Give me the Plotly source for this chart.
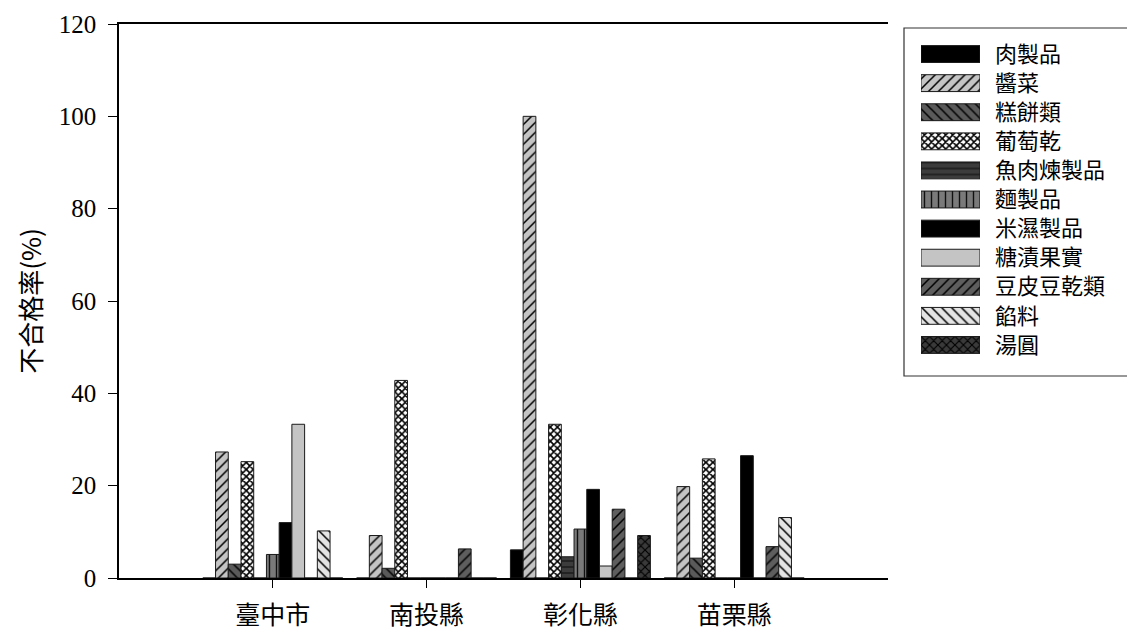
import plotly.graph_objects as go

regions = ["臺中市", "南投縣", "彰化縣", "苗栗縣"]
series = ["肉製品", "醬菜", "糕餅類", "葡萄乾", "魚肉煉製品", "麵製品",
          "米濕製品", "糖漬果實", "豆皮豆乾類", "餡料", "湯圓"]

# values per series, order of regions
meat      = [0, 0, 6.1, 0]
pickles   = [27.3, 9.2, 100, 19.8]
cakes     = [3.0, 2.1, 0, 4.3]
raisins   = [25.2, 42.8, 33.3, 25.8]
fishpaste = [0, 0, 4.6, 0]
noodles   = [5.1, 0, 10.6, 0]
ricewet   = [12.0, 0, 19.2, 26.5]
candied   = [33.3, 0, 2.6, 0]
tofuskin  = [0, 6.3, 14.9, 6.8]
filling   = [10.2, 0, 0, 13.1]
tangyuan  = [0, 0, 9.2, 0]
values = [meat, pickles, cakes, raisins, fishpaste, noodles,
          ricewet, candied, tofuskin, filling, tangyuan]

bgcolors = ["#000000", "#c4c4c4", "#5a5a5a", "#ffffff", "#3c3c3c", "#7a7a7a",
            "#000000", "#c4c4c4", "#5e5e5e", "#e4e4e4", "#3a3a3a"]
shapes_p = ["", "/", "\\", "x", "-", "|", "", "", "/", "\\", "x"]
fgcolors = ["#000000", "#000000", "#000000", "#000000", "#111111", "#111111",
            "#000000", "#000000", "#000000", "#000000", "#000000"]
psizes = [6, 7, 7, 5, 6, 7, 6, 6, 7, 7, 6]
psolid = [0.3, 0.22, 0.22, 0.55, 0.2, 0.2, 0.3, 0.3, 0.22, 0.22, 0.35]

W, H = 1135, 630
OFF = 8  # page offset of the figure inside the browser window
# target screen positions
SX0, SX1, SY0, SY1 = 119, 888, 24, 578
ML, MT = SX0 - OFF, SY0 - OFF
MR, MB = 5, H - (SY1 - OFF)
PW = W - ML - MR
PH = H - MT - MB

def px_x(p):
    return (p - OFF - ML) / PW

def px_y(p):
    return (SY1 - p) / PH

fig = go.Figure()
for i, name in enumerate(series):
    fig.add_trace(go.Bar(
        x=regions, y=values[i], name=name,
        marker=dict(color=bgcolors[i],
                    line=dict(color="#1a1a1a", width=1),
                    pattern=dict(shape=shapes_p[i], bgcolor=bgcolors[i],
                                 fgcolor=fgcolors[i], size=psizes[i],
                                 solidity=psolid[i], fillmode="replace")),
        xaxis="x", yaxis="y", showlegend=False,
    ))

# legend drawn as a small bar chart, one trace per series
for i, name in enumerate(series):
    fig.add_trace(go.Bar(
        y=[name], x=[1], orientation="h", width=0.58, offset=-0.29,
        marker=dict(color=bgcolors[i], line=dict(color="#1a1a1a", width=1),
                    pattern=dict(shape=shapes_p[i], bgcolor=bgcolors[i],
                                 fgcolor=fgcolors[i], size=psizes[i],
                                 solidity=psolid[i], fillmode="replace")),
        xaxis="x2", yaxis="y2", showlegend=False, hoverinfo="skip",
    ))

serif = "Liberation Serif, Times New Roman, serif"
cjk = "Noto Sans CJK TC, Noto Sans CJK SC, sans-serif"

fig.update_layout(
    width=W, height=H,
    margin=dict(l=ML, r=MR, t=MT, b=MB, autoexpand=False),
    paper_bgcolor="white", plot_bgcolor="white",
    barmode="group", bargap=0.09, bargroupgap=0,
    showlegend=False,
    xaxis=dict(domain=[0, px_x(888)], range=[-1, 4], type="category",
               categoryorder="array", categoryarray=regions,
               showline=True, linecolor="#000000", linewidth=1.5, mirror=True,
               ticks="outside", ticklen=8, tickcolor="#000000",
               showgrid=False, zeroline=False,
               tickfont=dict(family=cjk, size=25, color="#000000"),
               ticklabelstandoff=6),
    yaxis=dict(domain=[0, 1], range=[0, 120], dtick=20,
               showline=True, linecolor="#000000", linewidth=1.5,
               ticks="outside", ticklen=9, tickcolor="#000000",
               showgrid=False, zeroline=False,
               tickfont=dict(family=serif, size=25, color="#000000"),
               ticklabelstandoff=7,
               title=dict(text="不合格率(%)", standoff=10,
                          font=dict(family=cjk, size=26, color="#000000"))),
    xaxis2=dict(domain=[px_x(921), px_x(980)], range=[0, 1], anchor="y2",
                visible=False, fixedrange=True),
    yaxis2=dict(domain=[px_y(359.5), px_y(39.5)], anchor="x2", side="right",
                autorange="reversed", type="category",
                categoryorder="array", categoryarray=series,
                showline=False, showgrid=False, zeroline=False, ticks="",
                ticklabelstandoff=14,
                tickfont=dict(family=cjk, size=22, color="#000000")),
    shapes=[dict(type="rect", xref="paper", yref="paper",
                 x0=px_x(904), x1=px_x(1145), y0=px_y(376), y1=px_y(28),
                 line=dict(color="#333333", width=1.2), fillcolor="rgba(0,0,0,0)",
                 layer="below")],
)

fig.write_html("out.html")
